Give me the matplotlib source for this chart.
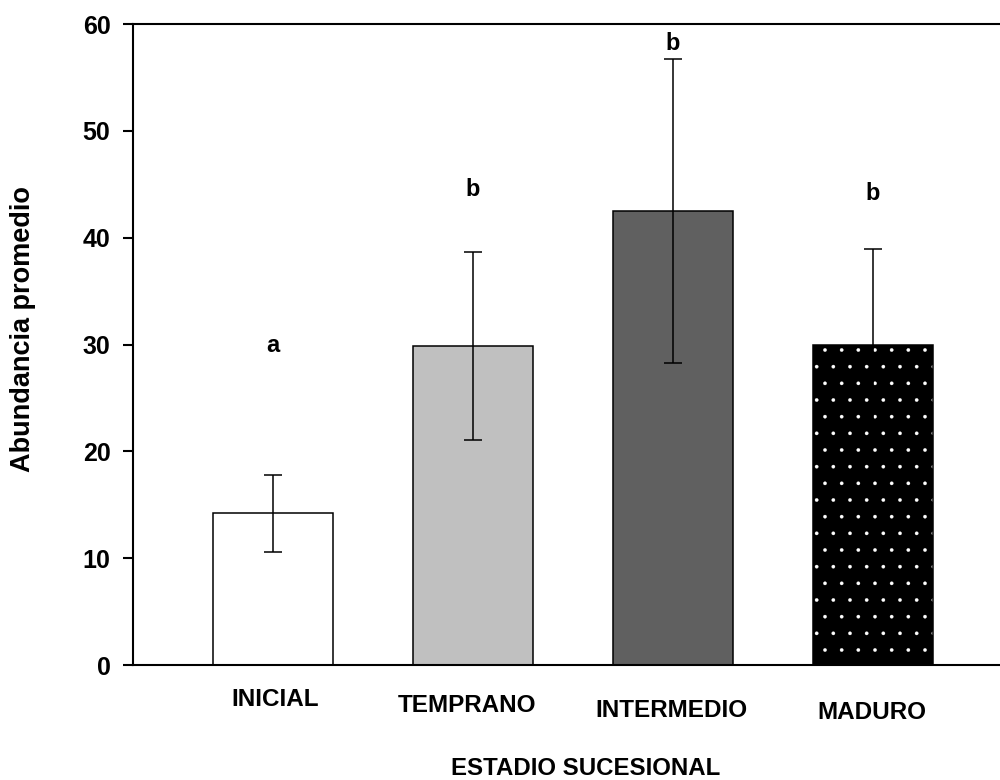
import matplotlib
matplotlib.use("Agg")
import matplotlib.pyplot as plt

plt.rcParams['font.family'] = ['Liberation Sans', 'DejaVu Sans']
plt.rcParams['font.weight'] = 'bold'

# data
estadios = ["INICIAL", "TEMPRANO", "INTERMEDIO", "MADURO"]
abundancia = [14.2, 29.9, 42.5, 30.0]
error = [3.6, 8.8, 14.2, 8.9]
letras = ["a", "b", "b", "b"]
letras_y = [29.95, 44.5, 58.2, 44.1]

colores = ["white", "#c0c0c0", "#606060", "black"]
# small shifts of the category labels (px) as in the original
lab_dx = [2, -6, -2, -1]
lab_dy = [34, 40, 45, 47]

x = list(range(len(estadios)))

fig = plt.figure(figsize=(10, 7.8), dpi=100)
ax = fig.add_axes([0.133, 0.1474, 0.867, 0.8218])

plt.rcParams['hatch.linewidth'] = 0.2
for i in x:
    if i == 3:
        ax.bar(i, abundancia[i], width=0.6, color="black", edgecolor="white",
               hatch=".", linewidth=0, zorder=2)
        ax.bar(i, abundancia[i], width=0.6, fill=False, edgecolor="black",
               linewidth=1.1, zorder=3)
    else:
        ax.bar(i, abundancia[i], width=0.6, color=colores[i], edgecolor="black",
               linewidth=1.1, zorder=2)

ax.errorbar(x, abundancia, yerr=error, fmt="none", ecolor="black",
            elinewidth=1.1, capsize=6.8, capthick=1.1, zorder=4)

for i in x:
    ax.text(i, letras_y[i], letras[i], ha="center", va="center",
            fontsize=17, fontweight="bold")

ax.set_xlim(-0.7, 3.635)
ax.set_ylim(0, 60)
ax.set_yticks([0, 10, 20, 30, 40, 50, 60])
ax.set_xticks([])
ax.tick_params(axis="y", direction="out", length=7.2, width=1.5, pad=9,
               labelsize=18)
for t in ax.get_yticklabels():
    t.set_fontweight("bold")

for s in ["left", "top", "bottom"]:
    ax.spines[s].set_linewidth(1.5)
ax.spines["right"].set_visible(False)

axh = 641.0
for i in x:
    ax.text(i + lab_dx[i] / 200.0, -lab_dy[i] / axh, estadios[i],
            transform=ax.get_xaxis_transform(), ha="center", va="center",
            fontsize=17.5, fontweight="bold")

ax.set_xlabel("ESTADIO SUCESIONAL", fontsize=17.3, fontweight="bold", va="center")
ax.xaxis.set_label_coords(0.5225, -0.161)
ax.set_ylabel("Abundancia promedio", fontsize=19.5, fontweight="bold", va="center")
ax.yaxis.set_label_coords(-0.127, 0.524)

plt.savefig("out.png", dpi=100)
